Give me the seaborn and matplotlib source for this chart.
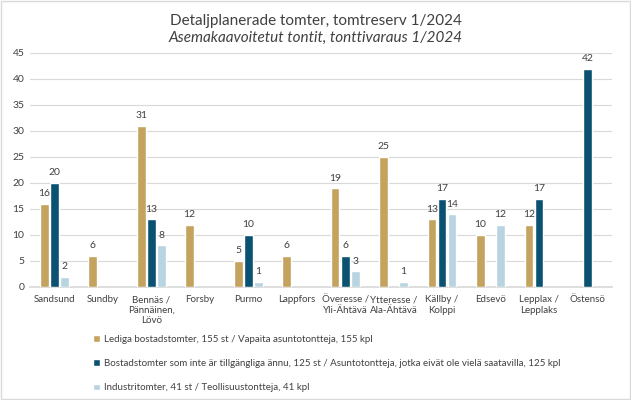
import numpy as np
import pandas as pd
import matplotlib
matplotlib.use("Agg")
import matplotlib.pyplot as plt
import seaborn as sns

categories = ["Sandsund", "Sundby", "Bennäs /\nPännäinen,\nLövö", "Forsby", "Purmo",
              "Lappfors", "Överesse /\nYli-Ähtävä", "Ytteresse /\nAla-Ähtävä",
              "Källby /\nKolppi", "Edsevö", "Lepplax /\nLepplaks", "Östensö"]
lediga = [16, 6, 31, 12, 5, 6, 19, 25, 13, 10, 12, np.nan]
bostad = [20, np.nan, 13, np.nan, 10, np.nan, 6, np.nan, 17, np.nan, 17, 42]
industri = [2, np.nan, 8, np.nan, 1, np.nan, 3, 1, 14, 12, np.nan, np.nan]
series_names = [
    "Lediga bostadstomter, 155 st / Vapaita asuntotontteja, 155 kpl",
    "Bostadstomter som inte är tillgängliga ännu, 125 st / Asuntotontteja, jotka eivät ole vielä saatavilla, 125 kpl",
    "Industritomter, 41 st / Teollisuustontteja, 41 kpl",
]
colors = ["#C4A35E", "#0B5272", "#B8D4E0"]

rows = []
for name, vals in zip(series_names, [lediga, bostad, industri]):
    for c, v in zip(categories, vals):
        rows.append({"cat": c, "series": name, "value": v})
df = pd.DataFrame(rows)

sns.set_theme(style="white")
plt.rcParams['font.family'] = ['Lato', 'DejaVu Sans']

fig = plt.figure(figsize=(6.31, 4.0), dpi=100)
ax = fig.add_axes([0.0475, 0.2825, 0.922, 0.585])

sns.barplot(data=df, x="cat", y="value", hue="series", order=categories,
            hue_order=series_names, palette=colors, width=0.62, gap=0.12,
            ax=ax, zorder=3, saturation=1)

for cont in ax.containers:
    labels = ["" if np.isnan(b.get_height()) else f"{int(b.get_height())}" for b in cont]
    ax.bar_label(cont, labels=labels, padding=4, fontsize=7.5, color="#404040")

ax.set_ylim(0, 45)
ax.set_yticks(range(0, 46, 5))
ax.set_xlim(-0.5, len(categories) - 0.5)
ax.grid(axis="y", color="#D9D9D9", linewidth=0.8, zorder=0)
ax.set_axisbelow(True)
for s in ["top", "right", "left"]:
    ax.spines[s].set_visible(False)
ax.spines["bottom"].set_color("#D9D9D9")
ax.set_xlabel("")
ax.set_ylabel("")
ax.tick_params(axis="y", labelsize=7.5, colors="#404040", length=0, pad=4)
ax.tick_params(axis="x", labelsize=7, colors="#404040", length=0, pad=6)

handles, labs = ax.get_legend_handles_labels()
ax.legend_.remove()
leg = fig.legend(handles, labs, loc="upper left", bbox_to_anchor=(0.148, 0.162),
                 frameon=False, fontsize=7, handlelength=0.7, handleheight=0.7,
                 handletextpad=0.4, labelspacing=1.55, borderaxespad=0, borderpad=0)
for t in leg.get_texts():
    t.set_color("#404040")

fig.text(0.5, 0.948, "Detaljplanerade tomter, tomtreserv 1/2024", ha="center",
         va="center", fontsize=11, color="#404040")
fig.text(0.5, 0.905, "Asemakaavoitetut tontit, tonttivaraus 1/2024", ha="center",
         va="center", fontsize=11, style="italic", color="#404040")

fig.patches.append(plt.Rectangle((0.002, 0.003), 0.996, 0.994, transform=fig.transFigure,
                                 fill=False, edgecolor="#D9D9D9", linewidth=1))

fig.savefig("out.png", dpi=100)
